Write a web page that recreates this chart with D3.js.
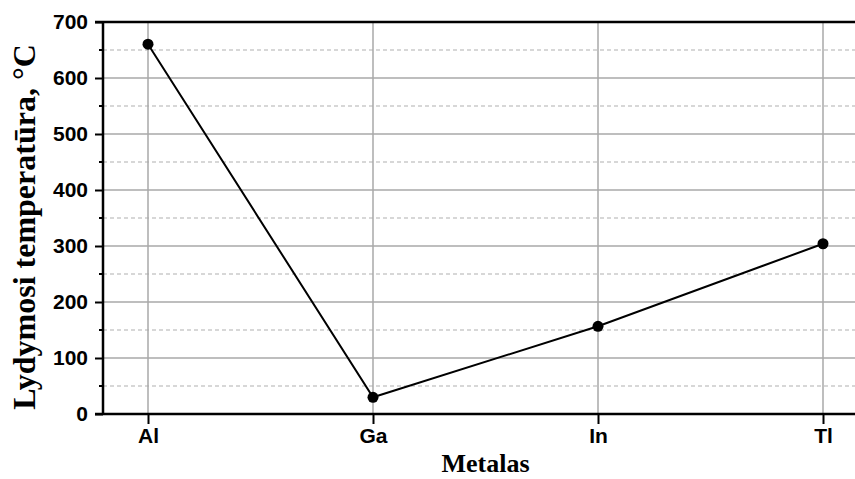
<!DOCTYPE html>
<html>
<head>
<meta charset="utf-8">
<script src="https://cdn.jsdelivr.net/npm/d3@7"></script>
<style>
  body { margin: 0; background: #fff; }
  svg { display: block; overflow: hidden; }
</style>
</head>
<body>
<script>
// Data
const metals = ["Al", "Ga", "In", "Tl"];
const meltingPoints = [660.3, 29.8, 156.6, 304];
const yTicks = [0, 100, 200, 300, 400, 500, 600, 700];
const yMinorTicks = [50, 150, 250, 350, 450, 550, 650];

const width = 855, height = 479;
const margin = { top: 22, right: -13, bottom: 65, left: 103 };

const svg = d3.select("body").append("svg")
  .attr("width", width)
  .attr("height", height);

// Scales
const xScale = d3.scalePoint()
  .domain(metals)
  .range([margin.left, width - margin.right])
  .padding(0.2);

const yScale = d3.scaleLinear()
  .domain([0, 700])
  .range([height - margin.bottom, margin.top]);

const x0 = margin.left, x1 = width - margin.right;
const y0 = yScale(0), y1 = yScale(700);

// Minor dashed gridlines
svg.append("g")
  .selectAll("line")
  .data(yMinorTicks)
  .join("line")
    .attr("x1", x0).attr("x2", x1)
    .attr("y1", d => yScale(d)).attr("y2", d => yScale(d))
    .attr("stroke", "#b0b0b0")
    .attr("stroke-width", 1.2)
    .attr("stroke-dasharray", "4,3");

// Major gridlines
svg.append("g")
  .selectAll("line")
  .data(yTicks.filter(d => d > 0 && d < 700))
  .join("line")
    .attr("x1", x0).attr("x2", x1)
    .attr("y1", d => yScale(d)).attr("y2", d => yScale(d))
    .attr("stroke", "#a8a8a8")
    .attr("stroke-width", 1.5);

svg.append("g")
  .selectAll("line")
  .data(metals)
  .join("line")
    .attr("x1", d => xScale(d)).attr("x2", d => xScale(d))
    .attr("y1", y0).attr("y2", y1)
    .attr("stroke", "#a8a8a8")
    .attr("stroke-width", 1.5);

// Y axis
const yAxis = svg.append("g")
  .attr("transform", `translate(${x0},0)`)
  .call(d3.axisLeft(yScale).tickValues(yTicks).tickSize(8).tickPadding(7).tickSizeOuter(0));
yAxis.select(".domain").remove();
yAxis.selectAll(".tick line").attr("stroke", "#000").attr("stroke-width", 2);
yAxis.selectAll(".tick text")
  .attr("fill", "#000")
  .style("font-family", "'Liberation Sans', Arial, sans-serif")
  .style("font-weight", "bold")
  .style("font-size", "21px");

svg.append("g")
  .selectAll("line")
  .data(yMinorTicks)
  .join("line")
    .attr("x1", x0 - 4).attr("x2", x0)
    .attr("y1", d => yScale(d)).attr("y2", d => yScale(d))
    .attr("stroke", "#000")
    .attr("stroke-width", 2);

// X axis
const xAxis = svg.append("g")
  .attr("transform", `translate(0,${y0})`)
  .call(d3.axisBottom(xScale).tickSize(10).tickPadding(4).tickSizeOuter(0));
xAxis.select(".domain").remove();
xAxis.selectAll(".tick line").attr("stroke", "#000").attr("stroke-width", 2);
xAxis.selectAll(".tick text")
  .attr("fill", "#000")
  .style("font-family", "'Liberation Sans', Arial, sans-serif")
  .style("font-weight", "bold")
  .style("font-size", "21px");

// Frame lines
svg.append("line")
  .attr("x1", x0 - 8).attr("x2", x1).attr("y1", y0).attr("y2", y0)
  .attr("stroke", "#000").attr("stroke-width", 2.5);
svg.append("line")
  .attr("x1", x0 - 8).attr("x2", x1).attr("y1", y1).attr("y2", y1)
  .attr("stroke", "#000").attr("stroke-width", 2.5);
svg.append("line")
  .attr("x1", x0).attr("x2", x0).attr("y1", y1).attr("y2", y0 + 1)
  .attr("stroke", "#000").attr("stroke-width", 2.5);

// Line + points
const data = metals.map((m, i) => ({ metal: m, value: meltingPoints[i] }));

const line = d3.line()
  .x(d => xScale(d.metal))
  .y(d => yScale(d.value));

svg.append("path")
  .attr("d", line(data))
  .attr("fill", "none")
  .attr("stroke", "#000")
  .attr("stroke-width", 2);

svg.selectAll(".data-point")
  .data(data)
  .join("circle")
    .attr("class", "data-point")
    .attr("cx", d => xScale(d.metal))
    .attr("cy", d => yScale(d.value))
    .attr("r", 5.5)
    .attr("fill", "#000");

// Axis titles
svg.append("text")
  .attr("x", (x0 + x1) / 2)
  .attr("y", 472)
  .attr("text-anchor", "middle")
  .style("font-family", "'Liberation Serif', 'Times New Roman', serif")
  .style("font-weight", "bold")
  .style("font-size", "26px")
  .text("Metalas");

svg.append("text")
  .attr("transform", `translate(35,227) rotate(-90)`)
  .attr("text-anchor", "middle")
  .style("font-family", "'Liberation Serif', 'Times New Roman', serif")
  .style("font-weight", "bold")
  .style("font-size", "32px")
  .text("Lydymosi temperatūra, °C");
</script>
</body>
</html>
